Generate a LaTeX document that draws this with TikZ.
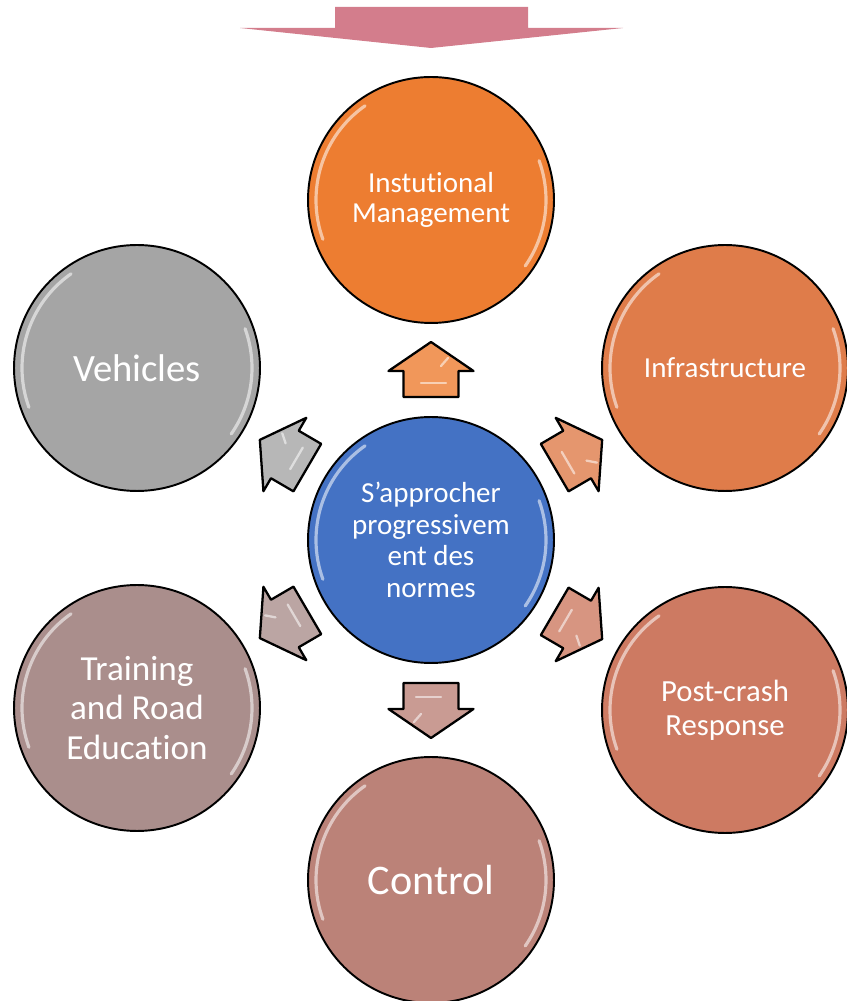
\documentclass[tikz,border=0pt]{standalone}
\usepackage{fontspec}
\setmainfont{Carlito}[Ligatures=CommonOff]
\usetikzlibrary{calc}
\definecolor{pinkarrow}{RGB}{211,125,140}
\definecolor{hubblue}{RGB}{68,114,196}
\definecolor{mgmtorange}{RGB}{237,125,49}
\definecolor{infraorange}{RGB}{223,124,74}
\definecolor{postcoral}{RGB}{205,122,98}
\definecolor{controlbrown}{RGB}{187,130,120}
\definecolor{trainmauve}{RGB}{170,142,140}
\definecolor{vehiclegray}{RGB}{165,165,165}

\tikzset{
  bubble/.style={circle, draw=black, line width=1.1pt, minimum size=4.92cm,
                 inner sep=0pt, text=white, align=center},
  glint/.style={white, opacity=0.55, line width=1.8pt, line cap=round},
  pics/outarrow/.style={code={
      \filldraw[fill=#1, draw=black, line width=1.3pt, line join=round]
        (-27,-27.5) -- (-1,-27.5) -- (-1,-42.5) -- (28,0) -- (-1,42.5) -- (-1,27.5) -- (-27,27.5) -- cycle;
      \draw[glint, line width=1.3pt] (-13,-15) -- (-13,10);
      \draw[glint, line width=1.3pt] (4,-10) -- (12,-17);
  }}
}
\newcommand{\shine}[1]{%
  \draw[glint] ($(#1)+(125:115)$) arc[start angle=125, end angle=200, radius=115];
  \draw[glint] ($(#1)+(-35:115)$) arc[start angle=-35, end angle=20, radius=115];
}

\begin{document}
\begin{tikzpicture}[x=0.02cm, y=0.02cm]
  \useasboundingbox (0,0) rectangle (846,1001);

  % arrow coming in from the top
  \fill[pinkarrow] (335,994) -- (528,994) -- (528,973) -- (623,973) -- (431,953) -- (240,973) -- (335,973) -- cycle;

  % circles
  \node[bubble, fill=hubblue, font=\fontsize{16.5}{18}\selectfont] (hub) at (431,461)
      {S’approcher\\progressivem\\ent des\\normes};
  \node[bubble, fill=mgmtorange, font=\fontsize{16.5}{17}\selectfont] (mgmt) at (431,801)
      {Instutional\\Management};
  \node[bubble, fill=infraorange, font=\fontsize{16.5}{18}\selectfont] (infra) at (725,633)
      {Infrastructure};
  \node[bubble, fill=postcoral, font=\fontsize{17.5}{19.3}\selectfont] (post) at (725,291)
      {Post-crash\\Response};
  \node[bubble, fill=controlbrown, font=\fontsize{24}{26}\selectfont] (control) at (431,121)
      {Control};
  \node[bubble, fill=trainmauve, font=\fontsize{20}{22.7}\selectfont] (training) at (137,293)
      {Training\\and Road\\Education};
  \node[bubble, fill=vehiclegray, font=\fontsize{22}{24}\selectfont] (vehicles) at (137,633)
      {Vehicles};

  \foreach \n in {hub,mgmt,infra,post,control,training,vehicles}
    \shine{\n};

  % arrows from the centre outwards
  \foreach \tgt/\ang/\col in {mgmt/90/mgmtorange, infra/30.3/infraorange,
                              post/-30.3/postcoral, control/-90/controlbrown,
                              training/210.3/trainmauve, vehicles/149.7/vehiclegray}
    \pic[rotate=\ang] at ($(hub)!0.5!(\tgt)$) {outarrow=\col!80!white};
\end{tikzpicture}
\end{document}
